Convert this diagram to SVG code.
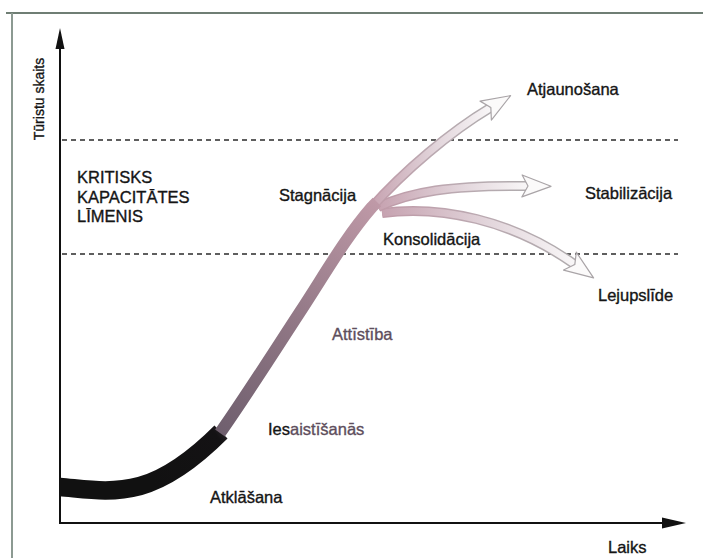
<svg xmlns="http://www.w3.org/2000/svg" width="703" height="558" viewBox="0 0 703 558">
<style>
.t{font-family:"Liberation Sans",Arial,sans-serif;font-size:16.5px;fill:#151515;stroke:#151515;stroke-width:0.35}
.ax{stroke:#111;stroke-width:2;fill:none}
.dash{stroke:#2a2a2a;stroke-width:1.6;stroke-dasharray:5 4;fill:none}
.bo{fill:none;stroke-width:10;stroke-linecap:butt}
.bi{fill:none;stroke-width:7;stroke-linecap:butt;marker-end:url(#oa)}
</style>
<defs>
<marker id="oa" markerUnits="userSpaceOnUse" markerWidth="32" markerHeight="26" viewBox="-1 -1 32 26" refX="5" refY="12" orient="auto">
<path d="M0,1 L29,12 L0,23 L6,12 Z" fill="#fbfafa" stroke="#a9a4a7" stroke-width="1.2" stroke-linejoin="round"/>
</marker>
<linearGradient id="gT" gradientUnits="userSpaceOnUse" x1="220" y1="433" x2="380" y2="200">
<stop offset="0" stop-color="#6f5f6e"/><stop offset="0.45" stop-color="#8f7684"/><stop offset="1" stop-color="#c09aa8"/>
</linearGradient>
<linearGradient id="gK" gradientUnits="userSpaceOnUse" x1="150" y1="480" x2="230" y2="420">
<stop offset="0" stop-color="#111"/><stop offset="0.8" stop-color="#141214"/><stop offset="1" stop-color="#3a323a"/>
</linearGradient>
<linearGradient id="gO" x1="0" y1="0" x2="1" y2="0">
<stop offset="0" stop-color="#c09aa8"/><stop offset="0.5" stop-color="#bba9b1"/><stop offset="1" stop-color="#b0acae"/>
</linearGradient>
<linearGradient id="gI" x1="0" y1="0" x2="1" y2="0">
<stop offset="0" stop-color="#c6a2b0"/><stop offset="0.55" stop-color="#e2d5db"/><stop offset="1" stop-color="#f8f6f7"/>
</linearGradient>
</defs>
<rect width="703" height="558" fill="#fff"/>
<g id="frame">
<line x1="6" y1="13" x2="703" y2="13" stroke="#6f7e74" stroke-width="2"/>
<line x1="12" y1="13" x2="12" y2="558" stroke="#8c9a92" stroke-width="2"/>
</g>
<g id="levels">
<line class="dash" x1="62" y1="140" x2="678" y2="140"/>
<line class="dash" x1="62" y1="254" x2="678" y2="254"/>
</g>
<g id="axes">
<line class="ax" x1="60" y1="524" x2="60" y2="46"/>
<path d="M60,28 L64.5,49 L55.5,49 Z" fill="#111"/>
<line class="ax" x1="59" y1="523" x2="666" y2="523"/>
<path d="M686,523 L662,517.5 L662,528.5 Z" fill="#111"/>
</g>
<g id="connectors">
<path class="bo" stroke="url(#gO)" d="M382,213 C440,205 512,220 574,264"/>
<path class="bi" stroke="url(#gI)" d="M382,213 C440,205 512,220 574,264"/>
<path class="bo" stroke="url(#gO)" d="M378,207 C410,192 450,185 527,186"/>
<path class="bi" stroke="url(#gI)" d="M378,207 C410,192 450,185 527,186"/>
<path class="bo" stroke="url(#gO)" d="M370,209 C405,170 450,132 490,108"/>
<path class="bi" stroke="url(#gI)" d="M370,209 C405,170 450,132 490,108"/>
<path d="M60,487 C85,489 110,494 140,486 C165,479 192,461 221,432" fill="none" stroke="url(#gK)" stroke-width="18.5"/>
<path d="M220,433 C242,402 270,358 300,312 C325,274 345,238 372,207 C374,205 375,204 377,202" fill="none" stroke="url(#gT)" stroke-width="12"/>
</g>
<g id="label-y"><text class="t" style="font-size:14px" transform="translate(44,99) rotate(-90)" text-anchor="middle">Tūristu skaits</text></g>
<g id="label-kritisks">
<text class="t" x="77" y="183">KRITISKS</text>
<text class="t" x="77" y="202.5">KAPACITĀTES</text>
<text class="t" x="77" y="222">LĪMENIS</text>
</g>
<g id="label-stagnacija"><text class="t" x="279" y="201">Stagnācija</text></g>
<g id="label-atjaunosana"><text class="t" x="527" y="95">Atjaunošana</text></g>
<g id="label-stabilizacija"><text class="t" x="585" y="199">Stabilizācija</text></g>
<g id="label-konsolidacija"><text class="t" x="383" y="245">Konsolidācija</text></g>
<g id="label-lejupslide"><text class="t" x="598" y="301">Lejupslīde</text></g>
<g id="label-attistiba"><text class="t" x="332" y="340" style="fill:#5e4e5c;stroke:#5e4e5c">Attīstība</text></g>
<g id="label-iesaistisanas"><text class="t" x="268" y="435">Ies<tspan style="fill:#5e4e5c;stroke:#5e4e5c">aistīšanās</tspan></text></g>
<g id="label-atklasana"><text class="t" x="210" y="503">Atklāšana</text></g>
<g id="label-x"><text class="t" x="608" y="553">Laiks</text></g>
</svg>
